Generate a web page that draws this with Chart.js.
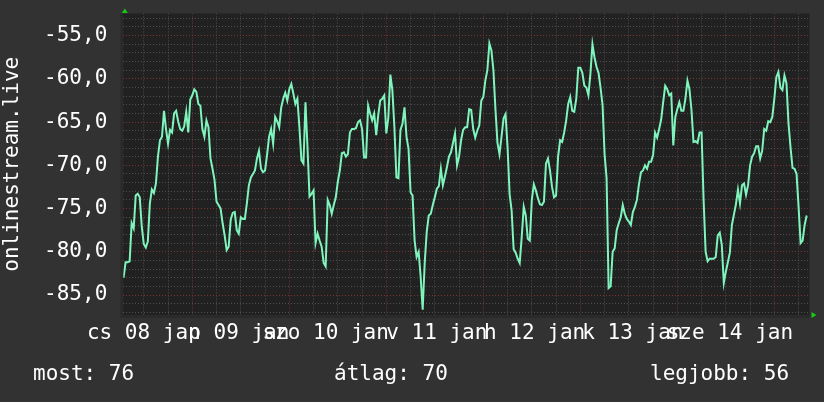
<!DOCTYPE html>
<html>
<head>
<meta charset="utf-8">
<script src="https://cdn.jsdelivr.net/npm/chart.js@4.4.1/dist/chart.umd.min.js"></script>
<style>
html, body { margin: 0; padding: 0; background: #323232; }
</style>
</head>
<body>
<canvas id="signalChart" width="824" height="402"></canvas>
<script>
// one value every half hour, hour 0 = jan 08 00:00
var firstHour = 7;
var hourStep = 0.5;
var signalValues = [
    -83.0, -81.2, -81.2, -81.1, -76.7, -77.3, -73.5, -73.3, -73.7, -77.1,
    -79.1, -79.5, -78.8, -74.4, -72.8, -73.2, -72.1, -69.0, -67.1, -66.7,
    -63.7, -65.8, -67.5, -65.9, -66.2, -64.0, -63.7, -64.9, -65.8, -66.0,
    -65.5, -63.8, -66.2, -62.4, -61.9, -61.2, -61.5, -62.9, -63.1, -65.8,
    -66.7, -64.8, -65.6, -69.2, -70.4, -71.7, -74.2, -74.6, -75.0, -76.7,
    -78.1, -79.8, -79.4, -76.3, -75.5, -75.4, -77.5,
    -77.9, -76.0, -76.2, -76.2, -74.4, -72.3, -71.4, -71.0, -70.6, -69.2,
    -68.3, -70.4, -70.8, -70.6, -68.8, -66.7, -65.8, -67.5, -64.4, -64.9,
    -65.6, -63.3, -62.3, -61.6, -62.5, -61.2, -60.6, -61.7, -62.9, -62.3,
    -65.6, -69.4, -69.8, -62.7, -67.9, -73.6, -73.3, -72.9, -79.0, -77.9,
    -78.7, -79.4, -81.3, -81.7, -74.0, -74.6, -75.6, -74.6, -73.7, -71.9,
    -70.6, -68.6, -68.5, -69.0, -68.7, -66.2,
    -65.8, -65.8, -65.7, -65.0, -64.8, -65.8, -69.1, -69.1, -63.1, -64.0,
    -64.8, -64.0, -66.5, -64.2, -62.5, -62.3, -61.9, -66.3, -64.5, -59.5,
    -61.3, -65.6, -71.4, -71.5, -65.9, -65.2, -63.3, -66.7, -68.1, -73.1,
    -73.5, -78.7, -80.6, -80.0, -82.9, -86.7, -81.3, -77.7, -75.8, -75.6,
    -74.6, -73.7, -72.7, -72.4, -70.4, -72.3, -71.3, -70.2, -69.0, -68.5,
    -67.4, -66.3, -70.0, -69.0, -67.1, -65.9, -65.6, -65.6,
    -63.5, -63.6, -65.8, -66.8, -66.0, -65.4, -62.5, -62.1, -60.2, -59.0,
    -55.9, -56.7, -59.0, -63.5, -67.4, -68.7, -66.7, -64.6, -64.1, -67.9,
    -73.3, -75.2, -79.7, -80.1, -80.8, -81.3, -78.3, -74.8, -75.8, -78.5,
    -78.7, -74.0, -72.2, -72.9, -73.8, -74.5, -74.6, -74.2, -69.8, -69.2,
    -70.6, -72.5, -73.7, -73.5, -69.0, -67.1, -67.3, -66.2, -64.8, -62.9,
    -62.1, -63.7, -63.8, -62.3, -58.7, -58.7, -59.3, -60.8,
    -61.0, -61.9, -59.4, -56.0, -57.5, -58.6, -59.3, -61.0, -63.0, -68.7,
    -71.5, -84.2, -84.0, -80.0, -79.6, -77.5, -76.7, -76.0, -74.6, -75.6,
    -76.2, -76.5, -76.9, -75.4, -74.8, -74.0, -72.2, -70.8, -70.6, -70.0,
    -70.4, -69.6, -69.6, -68.8, -66.2, -66.8, -65.8, -64.7, -62.7, -60.8,
    -61.2, -61.9, -61.7, -67.7, -64.4, -63.5, -62.7, -63.7, -63.7, -62.3,
    -60.2, -61.2, -63.6, -67.3, -67.2, -67.4, -66.2, -66.2,
    -74.0, -80.0, -81.1, -80.8, -80.8, -80.8, -80.6, -78.1, -77.8, -79.2,
    -83.6, -82.3, -81.2, -80.1, -76.9, -75.7, -74.5, -72.8, -74.4, -72.3,
    -72.1, -73.4, -72.3, -70.0, -69.0, -68.6, -67.8, -67.8, -69.2, -68.3,
    -65.8, -66.0, -64.9, -65.0, -64.4, -62.3, -59.8, -59.2, -61.0, -61.3,
    -59.6, -60.5, -65.1, -67.9, -70.3, -70.4, -71.0, -74.8, -79.0, -78.7,
    -76.9, -75.8
];
var dayLabels = ['cs 08 jan', 'p 09 jan', 'szo 10 jan', 'v 11 jan', 'h 12 jan', 'k 13 jan', 'sze 14 jan'];
var dayLabelHours = [12, 35.5, 57, 84.5, 108.7, 133, 157];
var yAxisTitle = 'onlinestream.live';
var statTexts = ['most: 76', 'átlag: 70', 'legjobb: 56'];

var hourMin = 6.93;
var hourMax = 176.7;
var valueMin = -87.31;
var valueMax = -52.44;

var monoFont = { family: 'DejaVu Sans Mono', size: 21 };
Chart.defaults.color = '#ffffff';
Chart.defaults.font.family = 'DejaVu Sans Mono';

var points = signalValues.map(function (v, i) {
    return { x: firstHour + i * hourStep, y: v };
});

function noScalePadding(scale) {
    scale.paddingTop = 0;
    scale.paddingBottom = 0;
    scale.paddingLeft = 0;
    scale.paddingRight = 0;
}

var rrdLook = {
    id: 'rrdLook',
    beforeDraw: function (chart) {
        var c = chart.ctx;
        var a = chart.chartArea;
        c.save();
        c.fillStyle = '#323232';
        c.fillRect(0, 0, chart.width, chart.height);
        c.fillStyle = '#2a2a2a';
        c.fillRect(a.left - 3, a.top, 3, a.bottom - a.top + 3);
        c.fillRect(a.left, a.bottom, a.right - a.left, 3);
        c.fillStyle = '#212121';
        c.fillRect(a.left, a.top, a.right - a.left, a.bottom - a.top);
        c.restore();
    },
    afterDraw: function (chart) {
        var c = chart.ctx;
        var a = chart.chartArea;
        c.save();
        // arrows at the axis ends
        c.fillStyle = '#14cc14';
        c.beginPath();
        c.moveTo(a.left + 1.5, a.top - 5);
        c.lineTo(a.left - 1.5, a.top - 0.5);
        c.lineTo(a.left + 4.5, a.top - 0.5);
        c.closePath();
        c.fill();
        c.beginPath();
        c.moveTo(a.right + 2, a.bottom - 3);
        c.lineTo(a.right + 7, a.bottom);
        c.lineTo(a.right + 2, a.bottom + 3);
        c.closePath();
        c.fill();

        c.fillStyle = '#ffffff';
        c.font = '21px "DejaVu Sans Mono"';
        c.textBaseline = 'alphabetic';
        c.fillText(statTexts[0], 33, 380);
        c.fillText(statTexts[1], 334, 380);
        c.fillText(statTexts[2], 650, 380);
        c.restore();
    }
};

var myChart = new Chart(document.getElementById('signalChart').getContext('2d'), {
    type: 'line',
    data: {
        datasets: [{
            data: points,
            borderColor: '#7ff5bd',
            borderWidth: 2,
            pointRadius: 0,
            tension: 0,
            xAxisID: 'x',
            yAxisID: 'y'
        }]
    },
    options: {
        responsive: false,
        animation: false,
        layout: { padding: { top: 13.5, right: 14.5, left: 0, bottom: 0 } },
        plugins: {
            legend: { display: false },
            tooltip: { enabled: false }
        },
        scales: {
            x: {
                type: 'linear',
                position: 'bottom',
                min: hourMin,
                max: hourMax,
                afterBuildTicks: function (scale) {
                    var t = [];
                    for (var h = 12; h <= hourMax; h += 6) t.push({ value: h });
                    scale.ticks = t;
                },
                ticks: { display: false },
                grid: {
                    drawTicks: false,
                    color: function (ctx) {
                        return ctx.tick && ctx.tick.value % 24 === 0 ? '#7a3434' : '#505050';
                    }
                },
                border: { display: false, dash: [1, 2] },
                afterFit: function (scale) {
                    scale.height = 0;
                    noScalePadding(scale);
                }
            },
            xLabels: {
                type: 'linear',
                position: 'bottom',
                min: hourMin,
                max: hourMax,
                afterBuildTicks: function (scale) {
                    scale.ticks = dayLabelHours.map(function (h) { return { value: h }; });
                },
                ticks: {
                    autoSkip: false,
                    maxRotation: 0,
                    color: '#ffffff',
                    font: monoFont,
                    padding: 6,
                    callback: function (value, index) { return dayLabels[index]; }
                },
                grid: { display: false, drawTicks: false },
                border: { display: false },
                afterFit: function (scale) {
                    scale.height = 87;
                    noScalePadding(scale);
                }
            },
            y: {
                min: valueMin,
                max: valueMax,
                afterBuildTicks: function (scale) {
                    var t = [];
                    for (var v = -87; v <= -53; v++) t.push({ value: v });
                    scale.ticks = t;
                },
                ticks: {
                    autoSkip: false,
                    color: '#ffffff',
                    font: monoFont,
                    padding: 16,
                    callback: function (value) {
                        return value % 5 === 0 ? value.toFixed(1).replace('.', ',') : '';
                    }
                },
                grid: {
                    drawTicks: false,
                    color: function (ctx) {
                        return ctx.tick && ctx.tick.value % 5 === 0 ? '#7a3434' : '#505050';
                    }
                },
                border: { display: false, dash: [1, 2] },
                title: {
                    display: true,
                    text: yAxisTitle,
                    color: '#ffffff',
                    font: monoFont,
                    padding: { top: 0, bottom: 0 }
                },
                afterFit: function (scale) {
                    scale.width = 123.3;
                    noScalePadding(scale);
                }
            }
        }
    },
    plugins: [rrdLook]
});
</script>
</body>
</html>
